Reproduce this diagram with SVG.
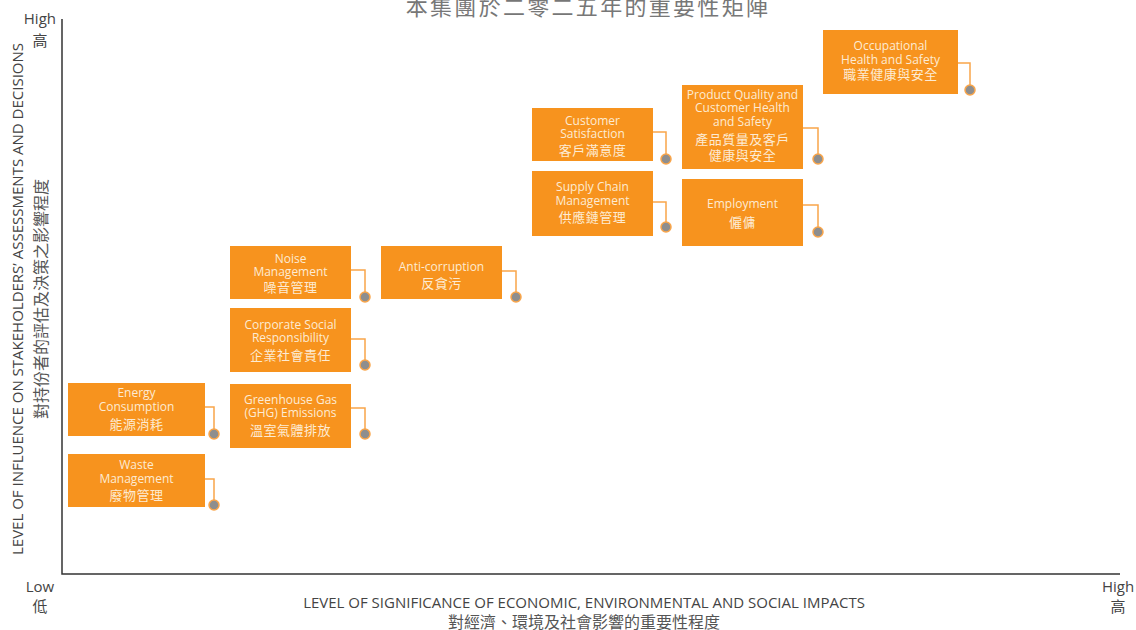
<svg xmlns="http://www.w3.org/2000/svg" width="1136" height="630" viewBox="0 0 1136 630">
<style>
text{font-family:"Open Sans","Noto Sans CJK TC",sans-serif;}
.box{fill:#F7931E;}
.t{fill:#FDEBD3;font-size:12px;text-anchor:middle;}
.c{fill:#FDEBD3;font-size:13px;text-anchor:middle;letter-spacing:0.5px;}
.ln{fill:none;stroke:#F9A54A;stroke-width:1.5;}
.dot{fill:#8E8E8E;stroke:#F9A54A;stroke-width:1.5;}
.ax{stroke:#333;stroke-width:1.5;fill:none;}
.lab{fill:#444;font-size:15px;}
.axt{fill:#444;font-size:15px;text-anchor:middle;}
.axc{fill:#555;font-size:16px;text-anchor:middle;}
</style>
<rect width="1136" height="630" fill="#fff"/>
<text x="588" y="15" font-size="22" fill="#777" text-anchor="middle" letter-spacing="2.3">本集團於二零二五年的重要性矩陣</text>
<g id="axes">
<path class="ax" d="M62,19 V574 H1120"/>
<text class="lab" x="56" y="24" text-anchor="end">High</text>
<text class="lab" x="40" y="46" text-anchor="middle">高</text>
<text class="lab" x="40" y="592" text-anchor="middle">Low</text>
<text class="lab" x="40" y="612" text-anchor="middle">低</text>
<text class="lab" x="1118" y="592" text-anchor="middle">High</text>
<text class="lab" x="1118" y="612" text-anchor="middle">高</text>
<text class="axt" transform="translate(23,299) rotate(-90)">LEVEL OF INFLUENCE ON STAKEHOLDERS’ ASSESSMENTS AND DECISIONS</text>
<text class="axc" transform="translate(47,299) rotate(-90)">對持份者的評估及決策之影響程度</text>
<text class="axt" x="584" y="608">LEVEL OF SIGNIFICANCE OF ECONOMIC, ENVIRONMENTAL AND SOCIAL IMPACTS</text>
<text class="axc" x="584" y="628">對經濟、環境及社會影響的重要性程度</text>
</g>
<g id="connectors">
<path class="ln" d="M958,63 H970 V85"/><circle class="dot" cx="970" cy="90" r="5"/>
<path class="ln" d="M803,128 H818 V154"/><circle class="dot" cx="818" cy="159" r="5"/>
<path class="ln" d="M653,132 H666 V154"/><circle class="dot" cx="666" cy="159" r="5"/>
<path class="ln" d="M653,202 H666 V222"/><circle class="dot" cx="666" cy="227" r="5"/>
<path class="ln" d="M803,205 H818 V227"/><circle class="dot" cx="818" cy="232" r="5"/>
<path class="ln" d="M351,270 H365 V292"/><circle class="dot" cx="365" cy="297" r="5"/>
<path class="ln" d="M502,271 H516 V292"/><circle class="dot" cx="516" cy="297" r="5"/>
<path class="ln" d="M351,339 H365 V360"/><circle class="dot" cx="365" cy="365" r="5"/>
<path class="ln" d="M205,407 H214 V429"/><circle class="dot" cx="214" cy="434" r="5"/>
<path class="ln" d="M351,408 H365 V429"/><circle class="dot" cx="365" cy="434" r="5"/>
<path class="ln" d="M205,479 H214 V500"/><circle class="dot" cx="214" cy="505" r="5"/>
</g>
<g id="ohs"><rect class="box" x="823" y="30" width="135" height="64"/>
<text class="t" x="890.5" y="50">Occupational</text><text class="t" x="890.5" y="64">Health and Safety</text><text class="c" x="890.5" y="79">職業健康與安全</text></g>
<g id="product-quality"><rect class="box" x="682" y="85" width="121" height="84"/>
<text class="t" x="742.5" y="99">Product Quality and</text><text class="t" x="742.5" y="112">Customer Health</text><text class="t" x="742.5" y="126">and Safety</text><text class="c" x="742.5" y="144">產品質量及客戶</text><text class="c" x="742.5" y="160">健康與安全</text></g>
<g id="customer-satisfaction"><rect class="box" x="532" y="108" width="121" height="53"/>
<text class="t" x="592.5" y="125">Customer</text><text class="t" x="592.5" y="138">Satisfaction</text><text class="c" x="592.5" y="155">客戶滿意度</text></g>
<g id="supply-chain"><rect class="box" x="532" y="171" width="121" height="65"/>
<text class="t" x="592.5" y="191">Supply Chain</text><text class="t" x="592.5" y="205">Management</text><text class="c" x="592.5" y="222">供應鏈管理</text></g>
<g id="employment"><rect class="box" x="682" y="179" width="121" height="67"/>
<text class="t" x="742.5" y="208">Employment</text><text class="c" x="742.5" y="227">僱傭</text></g>
<g id="noise"><rect class="box" x="230" y="246" width="121" height="53"/>
<text class="t" x="290.5" y="263">Noise</text><text class="t" x="290.5" y="276">Management</text><text class="c" x="290.5" y="292">噪音管理</text></g>
<g id="anti-corruption"><rect class="box" x="381" y="246" width="121" height="53"/>
<text class="t" x="441.5" y="271">Anti-corruption</text><text class="c" x="441.5" y="288">反貪污</text></g>
<g id="csr"><rect class="box" x="230" y="308" width="121" height="64"/>
<text class="t" x="290.5" y="329">Corporate Social</text><text class="t" x="290.5" y="342">Responsibility</text><text class="c" x="290.5" y="360">企業社會責任</text></g>
<g id="energy"><rect class="box" x="68" y="383" width="137" height="53"/>
<text class="t" x="136.5" y="397">Energy</text><text class="t" x="136.5" y="411">Consumption</text><text class="c" x="136.5" y="429">能源消耗</text></g>
<g id="ghg"><rect class="box" x="230" y="384" width="121" height="64"/>
<text class="t" x="290.5" y="404">Greenhouse Gas</text><text class="t" x="290.5" y="417">(GHG) Emissions</text><text class="c" x="290.5" y="435">溫室氣體排放</text></g>
<g id="waste"><rect class="box" x="68" y="454" width="137" height="53"/>
<text class="t" x="136.5" y="469">Waste</text><text class="t" x="136.5" y="483">Management</text><text class="c" x="136.5" y="500">廢物管理</text></g>
</svg>
